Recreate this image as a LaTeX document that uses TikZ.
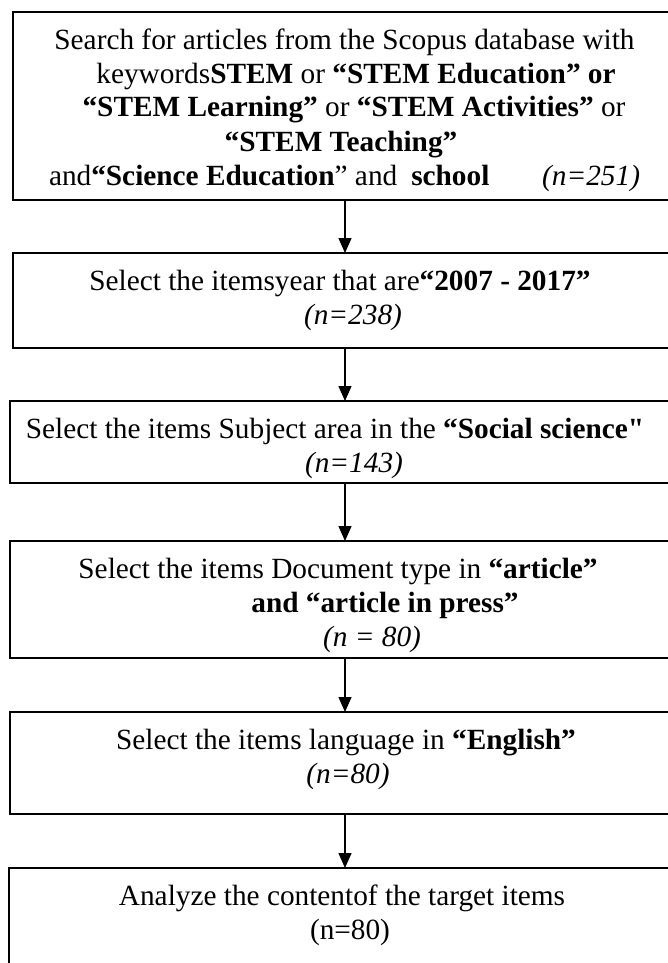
\documentclass[tikz,border=0pt]{standalone}
\usepackage{fontspec}
\setmainfont{Liberation Serif}
\newfontfamily\rawserif[Ligatures=TeXOff]{Liberation Serif}
\usetikzlibrary{arrows.meta}
\tikzset{
  box/.style={draw=black, line width=1.4pt, rectangle, anchor=north west, inner sep=0pt, outer sep=0pt},
  arr/.style={-{Triangle[width=13pt,length=15pt]}, line width=1.4pt},
  txt/.style={anchor=base, inner sep=0pt, outer sep=0pt, font=\fontsize{29.3}{34}\selectfont}
}
\begin{document}
\begin{tikzpicture}[x=1pt,y=-1pt]
\useasboundingbox (0,0) rectangle (667,963);
% boxes
\node[box, minimum width=664pt, minimum height=188pt] (b1) at (13,12) {};
\node[box, minimum width=664pt, minimum height=95pt]  (b2) at (13,253) {};
\node[box, minimum width=670pt, minimum height=82pt]  (b3) at (10,401) {};
\node[box, minimum width=670pt, minimum height=117pt] (b4) at (10,541) {};
\node[box, minimum width=670pt, minimum height=102pt] (b5) at (10,712) {};
\node[box, minimum width=672pt, minimum height=150pt] (b6) at (9,868) {};
% arrows
\draw[arr] (b1.south) -- (b2.north);
\draw[arr] (b2.south) -- (b3.north);
\draw[arr] (b3.south) -- (b4.north);
\draw[arr] (b4.south) -- (b5.north);
\draw[arr] (b5.south) -- (b6.north);
% texts
\node[txt] (t1a) at (344.5,50) {Search for articles from the Scopus database with};
\node[txt] (t1b) at (356,84) {keywords\textbf{STEM} or \textbf{“STEM Education” or}};
\node[txt] (t1c) at (354,117) {\textbf{“STEM Learning”} or \textbf{“STEM Activities”} or};
\node[txt] (t1d) at (341,151) {\textbf{“STEM Teaching”}};
\node[txt, anchor=base west] (t1e) at (49,185) {and\textbf{“Science Education}” and\hspace{14pt}\textbf{school}};
\node[txt, anchor=base east] (t1f) at (640,185) {\textit{(n=251)}};
\node[txt] (t2a) at (340,290) {Select the itemsyear that are\textbf{“2007 - 2017”}};
\node[txt] (t2b) at (353,324) {\textit{(n=238)}};
\node[txt] (t3a) at (335,438) {Select the items Subject area in the \textbf{“Social science{\rawserif"}}};
\node[txt] (t3b) at (354,472) {\textit{(n=143)}};
\node[txt] (t4a) at (338,578) {Select the items Document type in \textbf{“article”}};
\node[txt] (t4b) at (385,612) {\textbf{and “article in press”}};
\node[txt] (t4c) at (372,646) {\textit{(n = 80)}};
\node[txt] (t5a) at (346,749) {Select the items language in \textbf{“English”}};
\node[txt] (t5b) at (348,783) {\textit{(n=80)}};
\node[txt] (t6a) at (342,905) {Analyze the contentof the target items};
\node[txt] (t6b) at (350,939) {(n=80)};
\end{tikzpicture}
\end{document}
